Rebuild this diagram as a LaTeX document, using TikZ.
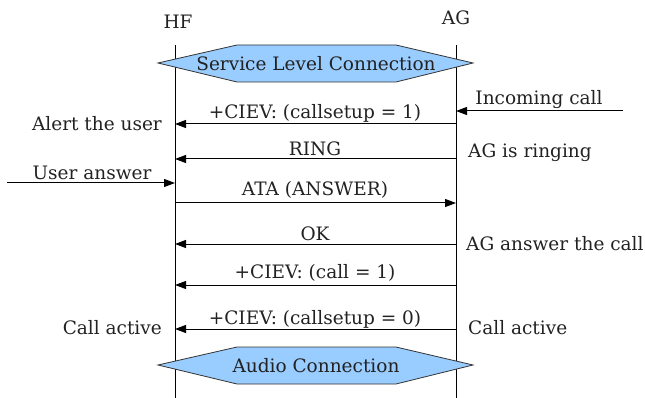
\documentclass[tikz,border=0pt]{standalone}
\usepackage{fontspec}
\setmainfont{DejaVu Serif}
\usetikzlibrary{arrows.meta}
\definecolor{txt}{HTML}{222222}
\definecolor{boxfill}{HTML}{99CCFF}
\definecolor{boxline}{HTML}{333333}
\tikzset{
  lbl/.style={inner sep=0pt, text=txt, font=\fontsize{18.5}{22}\selectfont},
  life/.style={line width=1pt, black},
  msg/.style={line width=1pt, black, -{Triangle[length=11pt,width=8pt]}},
  hexbox/.style={fill=boxfill, draw=boxline, line width=0.8pt},
}
\begin{document}
\begin{tikzpicture}[x=1pt,y=-1pt]
\useasboundingbox (0,0) rectangle (645,398);
% lifelines
\coordinate (hfT) at (175,45); \coordinate (hfB) at (175,398);
\coordinate (agT) at (456,45); \coordinate (agB) at (456,398);
\draw[life] (hfT) -- (hfB);
\draw[life] (agT) -- (agB);
\node[lbl] (hf) at (178,22) {HF};
\node[lbl] (ag) at (456,18) {AG};
% service level connection
\draw[hexbox] (158,63) -- (237,45) -- (396,45) -- (473,63) -- (396,82) -- (237,82) -- cycle;
\node[lbl] (slc) at (316,64) {Service Level Connection};
% audio connection
\draw[hexbox] (158,365) -- (237,347) -- (396,347) -- (473,365) -- (396,384) -- (237,384) -- cycle;
\node[lbl] (ac) at (316,366) {Audio Connection};
% coordinates of message ends
\coordinate (e0) at (623,111); \coordinate (a0) at (456,111);
\coordinate (a1) at (456,124); \coordinate (h1) at (175,124);
\coordinate (a2) at (456,159); \coordinate (h2) at (175,159);
\coordinate (e3) at (7,183);   \coordinate (h3) at (175,183);
\coordinate (h4) at (175,203); \coordinate (a4) at (456,203);
\coordinate (a5) at (456,244); \coordinate (h5) at (175,244);
\coordinate (a6) at (456,285); \coordinate (h6) at (175,285);
\coordinate (a7) at (456,329); \coordinate (h7) at (175,329);
\draw[msg] (e0) -- (a0);
\draw[msg] (a1) -- (h1);
\draw[msg] (a2) -- (h2);
\draw[msg] (e3) -- (h3);
\draw[msg] (h4) -- (a4);
\draw[msg] (a5) -- (h5);
\draw[msg] (a6) -- (h6);
\draw[msg] (a7) -- (h7);
% message labels
\node[lbl] (t0) at (539,100) {Incoming call};
\node[lbl] (t1) at (315,113) {+CIEV: (callsetup = 1)};
\node[lbl] (t2) at (315,149) {RING};
\node[lbl] (t3) at (92,173) {User answer};
\node[lbl] (t4) at (315,190) {ATA (ANSWER)};
\node[lbl] (t5) at (315,234) {OK};
\node[lbl] (t6) at (315,273) {+CIEV: (call = 1)};
\node[lbl] (t7) at (315,319) {+CIEV: (callsetup = 0)};
% side notes
\node[lbl, anchor=east] (n1) at (162,124) {Alert the user};
\node[lbl, anchor=west] (n2) at (468,153) {AG is ringing};
\node[lbl, anchor=west] (n5) at (466,244) {AG answer the call};
\node[lbl, anchor=east] (n7) at (162,328) {Call active};
\node[lbl, anchor=west] (n8) at (468,328) {Call active};
\end{tikzpicture}
\end{document}
